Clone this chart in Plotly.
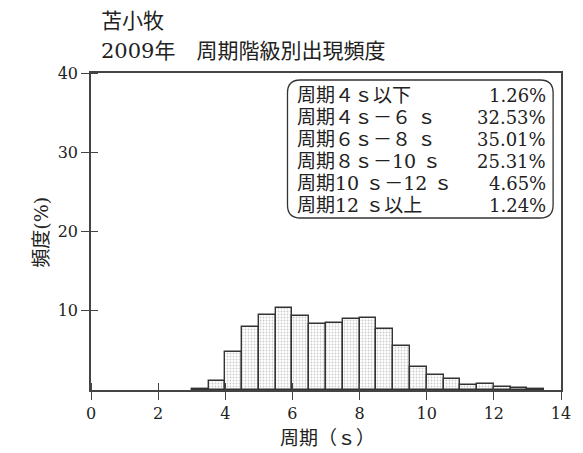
import plotly.graph_objects as go

# ---- data ----
bin_left = [3.0, 3.5, 4.0, 4.5, 5.0, 5.5, 6.0, 6.5, 7.0, 7.5, 8.0, 8.5,
            9.0, 9.5, 10.0, 10.5, 11.0, 11.5, 12.0, 12.5, 13.0]
freq = [0.09, 1.17, 4.80, 7.90, 9.50, 10.33, 9.30, 8.30, 8.50, 8.91, 9.10, 7.70,
        5.60, 2.91, 1.85, 1.38, 0.68, 0.74, 0.38, 0.24, 0.12]
bin_width = 0.5

x_ticks = [0, 2, 4, 6, 8, 10, 12, 14]
y_ticks = [10, 20, 30, 40]

legend_labels = ["周期４ｓ以下", "周期４ｓ－６ ｓ", "周期６ｓ－８ ｓ",
                 "周期８ｓ－10 ｓ", "周期10 ｓ－12 ｓ", "周期12 ｓ以上"]
legend_values = ["1.26%", "32.53%", "35.01%", "25.31%", "4.65%", "1.24%"]

title1 = "苫小牧"
title2 = "2009年　周期階級別出現頻度"
x_title = "周期（ｓ）"
y_title = "頻度(%)"

# ---- layout constants ----
# the page body has an 8px margin, so the figure starts at (8, 8) in the window
OFF = 8
W, H = 583 - OFF, 453 - OFF
PL, PR, PT, PB = 91, 567, 73, 390   # plot area in window pixels
L, R, T, B = PL - OFF, 583 - PR, PT - OFF, 453 - PB
PW, PH = PR - PL, PB - PT


def px_x(p):
    return (p - PL) / PW


def px_y(p):
    return (PB - p) / PH


FONT = "'DejaVu Serif', 'Noto Sans CJK JP', serif"
TXT = "#222"
AX = "#444"

centers = [b + bin_width / 2 for b in bin_left]

fig = go.Figure()
fig.add_trace(go.Bar(
    x=centers, y=freq, width=bin_width,
    marker=dict(color="white",
                line=dict(color="#333", width=1.4),
                pattern=dict(shape=".", fgcolor="#999", bgcolor="white",
                             size=3, solidity=0.3)),
    showlegend=False, hoverinfo="skip"))

# inner halves of the crossing ticks (drawn as minor ticks at the same values)
eps = 1e-6
x_inner = [v + eps for v in x_ticks]
y_inner = [v + eps for v in [0] + y_ticks]

axis_common = dict(showgrid=False, zeroline=False, linecolor=AX, linewidth=1.5,
                   tickcolor=AX, tickwidth=1.3, ticklen=8,
                   tickfont=dict(family=FONT, size=16, color=TXT))

fig.update_layout(
    width=W, height=H,
    margin=dict(l=L, r=R, t=T, b=B, pad=0),
    paper_bgcolor="white", plot_bgcolor="white",
    font=dict(family=FONT, color=TXT),
    bargap=0,
    xaxis=dict(range=[0, 14], tickvals=x_ticks, ticks="outside", showline=True,
               mirror=True,
               minor=dict(tickmode="array", tickvals=x_inner, ticks="inside",
                          ticklen=7, tickcolor=AX, tickwidth=1.3, showgrid=False),
               **axis_common),
    yaxis=dict(range=[0, 40], tickvals=y_ticks, ticks="outside", showline=True,
               mirror=True,
               minor=dict(tickmode="array", tickvals=y_inner, ticks="inside",
                          ticklen=7, tickcolor=AX, tickwidth=1.3, showgrid=False),
               **axis_common),
)

ann = []
ann.append(dict(text=title1, x=px_x(99), y=px_y(21), xref="paper", yref="paper",
                xanchor="left", yanchor="middle", showarrow=False,
                font=dict(family=FONT, size=21, color=TXT)))
ann.append(dict(text=title2, x=px_x(99), y=px_y(51), xref="paper", yref="paper",
                xanchor="left", yanchor="middle", showarrow=False,
                font=dict(family=FONT, size=21, color=TXT)))
ann.append(dict(text=x_title, x=px_x(331), y=px_y(438), xref="paper", yref="paper",
                xanchor="center", yanchor="middle", showarrow=False,
                font=dict(family=FONT, size=19, color=TXT)))
ann.append(dict(text=y_title, x=px_x(40), y=px_y(232), xref="paper", yref="paper",
                xanchor="center", yanchor="middle", showarrow=False, textangle=-90,
                font=dict(family=FONT, size=19, color=TXT)))

row0, step = 95, 22
for i, (lab, val) in enumerate(zip(legend_labels, legend_values)):
    yy = px_y(row0 + i * step)
    ann.append(dict(text=lab, x=px_x(298), y=yy, xref="paper", yref="paper",
                    xanchor="left", yanchor="middle", showarrow=False,
                    font=dict(family=FONT, size=19, color=TXT)))
    ann.append(dict(text=val, x=px_x(554), y=yy, xref="paper", yref="paper",
                    xanchor="right", yanchor="middle", showarrow=False,
                    font=dict(family=FONT, size=18, color=TXT)))
fig.update_layout(annotations=ann)

# rounded legend box
x0, x1, y0, y1 = px_x(290), px_x(559), px_y(218), px_y(80)
rx, ry = 13 / PW, 13 / PH
path = (f"M {x0+rx},{y1} L {x1-rx},{y1} Q {x1},{y1} {x1},{y1-ry} "
        f"L {x1},{y0+ry} Q {x1},{y0} {x1-rx},{y0} "
        f"L {x0+rx},{y0} Q {x0},{y0} {x0},{y0+ry} "
        f"L {x0},{y1-ry} Q {x0},{y1} {x0+rx},{y1} Z")
fig.add_shape(type="path", path=path, xref="paper", yref="paper",
              line=dict(color="#333", width=1.3), fillcolor="rgba(0,0,0,0)")

fig.write_html("out.html")
